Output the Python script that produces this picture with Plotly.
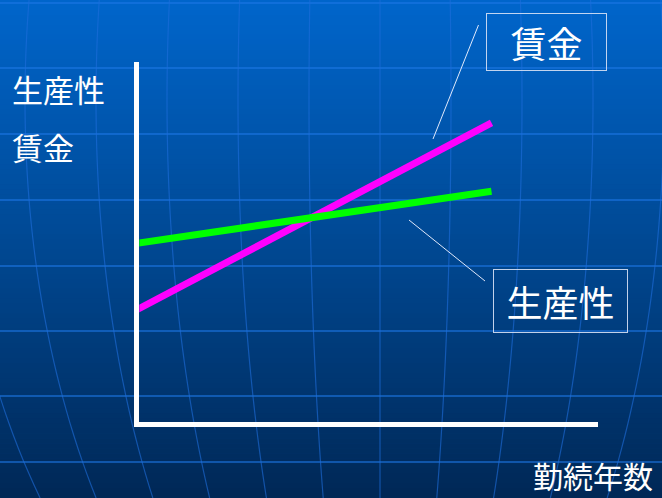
import math
import plotly.graph_objects as go

# ---- data ----
years = [0, 10]
wage = [3.1, 8.3]            # 賃金
productivity = [4.95, 6.4]   # 生産性
x_label = "勤続年数"
y_labels = ["生産性", "賃金"]
wage_name = "賃金"
prod_name = "生産性"

W, H = 662, 498
FONT = "Noto Sans CJK JP"

fig = go.Figure()

# ---- data traces on the chart axes ----
fig.add_trace(go.Scatter(x=years, y=wage, mode="lines", name=wage_name,
                         line=dict(color="#ff00ff", width=7), xaxis="x2", yaxis="y2",
                         cliponaxis=False, hoverinfo="skip"))
fig.add_trace(go.Scatter(x=years, y=productivity, mode="lines", name=prod_name,
                         line=dict(color="#00ff00", width=7), xaxis="x2", yaxis="y2",
                         cliponaxis=False, hoverinfo="skip"))

shapes = []

# ---- background gradient (decoration, pixel space on hidden axes) ----
def lerp(a, b, t):
    return a + (b - a) * t

top = (0, 102, 204)
mid = (0, 72, 146)
bot = (0, 40, 86)
n = 100
for i in range(n):
    y0 = H * i / n
    y1 = H * (i + 1) / n + 0.6
    t = (i + 0.5) / n
    if t < 0.5:
        c = tuple(lerp(top[k], mid[k], t / 0.5) for k in range(3))
    else:
        c = tuple(lerp(mid[k], bot[k], (t - 0.5) / 0.5) for k in range(3))
    col = "rgb(%d,%d,%d)" % c
    shapes.append(dict(type="rect", xref="x", yref="y", x0=0, x1=W, y0=y0, y1=y1,
                       line=dict(width=0), fillcolor=col, layer="below"))

# horizontal parallels
for yy in [3, 68, 134, 200, 266, 331, 396, 462]:
    shapes.append(dict(type="line", xref="x", yref="y", x0=0, x1=W, y0=yy, y1=yy,
                       line=dict(color="rgba(30,120,230,0.75)", width=1.6), layer="below"))

# curved meridians
cx, ye, R = 380, 100, 663
for d in [-425, -355, -284, -213, -142, -71, 0, 71, 142, 213, 284, 355]:
    pts = []
    for j in range(41):
        yy = H * j / 40
        g = math.sqrt(max(0.0, 1 - ((yy - ye) / R) ** 2))
        pts.append((cx + d * g, yy))
    path = "M %.2f,%.2f " % pts[0] + " ".join("L %.2f,%.2f" % p for p in pts[1:])
    shapes.append(dict(type="path", xref="x", yref="y", path=path,
                       line=dict(color="rgba(30,110,220,0.6)", width=1.2), layer="below"))

# leader lines
shapes.append(dict(type="line", xref="x", yref="y", x0=433, y0=139, x1=478.5, y1=25,
                   line=dict(color="rgba(235,240,255,0.95)", width=1)))
shapes.append(dict(type="line", xref="x", yref="y", x0=409, y0=220, x1=485, y1=281,
                   line=dict(color="rgba(235,240,255,0.95)", width=1)))

annotations = [
    dict(x=546.5, y=42, xref="x", yref="y", text=wage_name, showarrow=False,
         font=dict(family=FONT, size=36, color="white"),
         bordercolor="rgba(215,225,245,0.9)", borderwidth=1, borderpad=0,
         width=119, height=56, xanchor="center", yanchor="middle"),
    dict(x=560.5, y=300.5, xref="x", yref="y", text=prod_name, showarrow=False,
         font=dict(family=FONT, size=36, color="white"),
         bordercolor="rgba(215,225,245,0.9)", borderwidth=1, borderpad=0,
         width=133, height=62, xanchor="center", yanchor="middle"),
    dict(x=10, y=88, xref="x", yref="y", text=y_labels[0], showarrow=False,
         font=dict(family=FONT, size=31, color="white"), xanchor="left", yanchor="middle"),
    dict(x=10, y=146, xref="x", yref="y", text=y_labels[1], showarrow=False,
         font=dict(family=FONT, size=31, color="white"), xanchor="left", yanchor="middle"),
    dict(x=532, y=H, xref="x", yref="y", text=x_label, showarrow=False,
         font=dict(family=FONT, size=30, color="white"), xanchor="left", yanchor="bottom",
         borderpad=0),
]

# chart axes geometry
x_dom = [139.3 / W, 597.7 / W]
y_dom = [1 - 421.5 / H, 1 - 61.7 / H]
px_per_x = 35.5
xmin = (139.3 - 136.5) / px_per_x
xmax = (597.7 - 136.5) / px_per_x

hidden = dict(visible=False, showgrid=False, zeroline=False, fixedrange=True)

fig.update_layout(
    width=W, height=H,
    margin=dict(l=0, r=0, t=0, b=0, pad=0),
    paper_bgcolor="rgb(0,72,146)",
    plot_bgcolor="rgba(0,0,0,0)",
    showlegend=False,
    xaxis=dict(range=[0, W], domain=[0, 1], **hidden),
    yaxis=dict(range=[H, 0], domain=[0, 1], **hidden),
    xaxis2=dict(range=[xmin, xmax], domain=x_dom, anchor="y2", showline=True,
                linecolor="white", linewidth=5, showgrid=False, zeroline=False,
                showticklabels=False, ticks=""),
    yaxis2=dict(range=[0, 10], domain=y_dom, anchor="x2", showline=True,
                linecolor="white", linewidth=5, showgrid=False, zeroline=False,
                showticklabels=False, ticks=""),
    shapes=shapes,
    annotations=annotations,
)

fig.write_html(
    "out.html",
    config={"displayModeBar": False},
    post_script="document.body.style.margin='0';document.body.style.padding='0';"
                "document.body.style.overflow='hidden';",
)
